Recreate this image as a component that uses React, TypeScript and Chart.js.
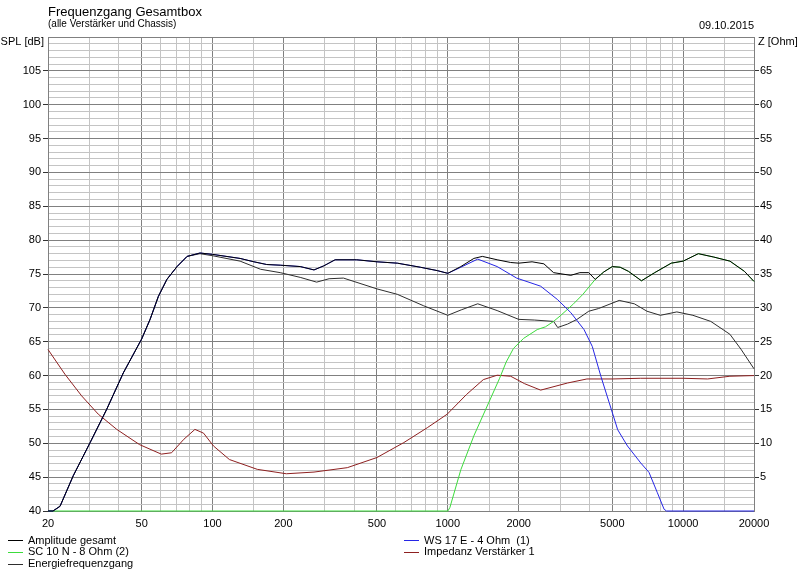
import React, { useEffect, useRef } from "react";
import { Chart, registerables } from "chart.js";

Chart.register(...registerables);

// ---------- Data ----------
const TITLE = "Frequenzgang Gesamtbox";
const SUBTITLE = "(alle Verstärker und Chassis)";
const DATE_TEXT = "09.10.2015";
const LEFT_UNIT = "SPL [dB]";
const RIGHT_UNIT = "Z [Ohm]";

const FREQ_LABELS = [20, 50, 100, 200, 500, 1000, 2000, 5000, 10000, 20000];
const FREQ_GRID = [
  20, 30, 40, 50, 60, 70, 80, 90, 100, 150, 200, 300, 400, 500, 600, 700, 800, 900,
  1000, 1500, 2000, 3000, 4000, 5000, 6000, 7000, 8000, 9000, 10000, 15000, 20000,
];

const AMP_LABEL = "Amplitude gesamt";
const AMP_FREQ = [
  20, 21, 22.5, 25.6, 30.2, 35.5, 41.8, 50, 54.3, 58.9, 64, 70.7, 78, 88.5, 100, 131, 150,
  170, 194, 236, 270, 297, 332, 410, 500, 610, 764, 902, 1000, 1136, 1290, 1402, 1620,
  1850, 2000, 2280, 2560, 2815, 3330, 3640, 3970, 4230, 4600, 5000, 5400, 5850, 6650,
  7570, 8900, 10000, 11600, 13500, 15800, 18200, 20000,
];
const AMP_VALUES = [
  40, 40, 40.7, 45.2, 50.1, 55.0, 60.4, 65.4, 68.3, 71.7, 74.2, 76.1, 77.6, 78.1, 77.9, 77.3,
  76.8, 76.4, 76.3, 76.1, 75.6, 76.2, 77.1, 77.1, 76.8, 76.6, 76.0, 75.5, 75.1, 76.1, 77.3,
  77.6, 77.1, 76.7, 76.6, 76.8, 76.5, 75.2, 74.8, 75.2, 75.2, 74.2, 75.3, 76.1, 76.0, 75.4,
  74.0, 75.2, 76.6, 76.9, 78.0, 77.5, 76.9, 75.4, 73.9,
];

const WOOFER_LABEL = "WS 17 E - 4 Ohm  (1)";
const WOOFER_FREQ = [
  20, 21, 22.5, 25.6, 30.2, 35.5, 41.8, 50, 54.3, 58.9, 64, 70.7, 78, 88.5, 100, 131, 150,
  170, 194, 236, 270, 297, 332, 410, 500, 610, 764, 902, 1000, 1136, 1340, 1620, 1960, 2480,
  2930, 3330, 3790, 4110, 4470, 4850, 5270, 5800, 6600, 7160, 7770, 8300, 8500, 20000,
];
const WOOFER_VALUES = [
  40, 40, 40.7, 45.2, 50.1, 55.0, 60.4, 65.4, 68.3, 71.7, 74.2, 76.1, 77.6, 78.1, 77.9, 77.3,
  76.8, 76.4, 76.3, 76.1, 75.6, 76.2, 77.1, 77.1, 76.8, 76.6, 76.0, 75.5, 75.1, 76.0, 77.2,
  76.1, 74.4, 73.2, 71.2, 69.3, 66.8, 64.3, 59.9, 56.0, 52.0, 49.6, 47.1, 45.7, 42.7, 40.25,
  40, 40,
];

const TWEETER_LABEL = "SC 10 N - 8 Ohm (2)";
const TWEETER_FREQ = [
  20, 1000, 1020, 1136, 1290, 1470, 1660, 1770, 1900, 2100, 2400, 2600, 2815, 3000, 3400,
  3750, 4230, 4600, 5000, 5400, 5850, 6650, 7570, 8900, 10000, 11600, 13500, 15800, 18200,
  20000,
];
const TWEETER_VALUES = [
  40, 40, 40.5, 46.1, 51.1, 55.5, 59.6, 62.0, 64.0, 65.5, 66.8, 67.2, 68.0, 68.8, 70.5, 72.0,
  74.2, 75.3, 76.1, 76.0, 75.4, 74.0, 75.2, 76.6, 76.9, 78.0, 77.5, 76.9, 75.4, 73.9,
];

const ENERGY_LABEL = "Energiefrequenzgang";
const ENERGY_FREQ = [
  20, 21, 22.5, 25.6, 30.2, 35.5, 41.8, 50, 54.3, 58.9, 64, 70.7, 78, 88.5, 100, 131, 160,
  194, 236, 277, 313, 360, 500, 610, 790, 1000, 1140, 1340, 1620, 2000, 2330, 2815, 2930,
  3225, 3540, 3970, 4370, 5350, 6200, 7020, 8000, 9400, 11000, 13100, 15800, 17600, 20000,
];
const ENERGY_VALUES = [
  40, 40, 40.7, 45.2, 50.1, 55.0, 60.4, 65.4, 68.3, 71.7, 74.2, 76.1, 77.6, 78.0, 77.7, 76.9,
  75.7, 75.2, 74.5, 73.8, 74.3, 74.4, 72.8, 72.0, 70.3, 68.9, 69.7, 70.6, 69.6, 68.3, 68.2,
  68.0, 67.1, 67.6, 68.3, 69.5, 69.9, 71.1, 70.6, 69.5, 68.9, 69.4, 68.9, 68.0, 66.1, 63.9,
  61.0,
];

const IMP_LABEL = "Impedanz Verstärker 1";
const IMP_FREQ = [
  20, 23.6, 27.8, 32.7, 39.2, 49, 60.6, 67, 75.6, 84.2, 91.6, 101, 118, 155, 206, 270, 374,
  500, 650, 818, 994, 1200, 1415, 1620, 1850, 2120, 2480, 3225, 3900, 5000, 6600, 10000,
  12700, 15800, 20000,
];
const IMP_VALUES = [
  23.85, 20.2, 17.0, 14.3, 12.05, 9.8, 8.4, 8.6, 10.6, 12.05, 11.5, 9.6, 7.6, 6.15, 5.5, 5.75,
  6.4, 7.9, 10.1, 12.3, 14.3, 17.2, 19.4, 20.05, 19.9, 18.8, 17.85, 18.9, 19.5, 19.5, 19.6,
  19.6, 19.5, 19.9, 20.0,
];

const SPL_MIN = 40;
const SPL_MAX = 110;
const Z_MIN = 0;
const Z_MAX = 70;

// ---------- Helpers ----------
const pts = (fx: number[], vy: number[]) => fx.map((f, i) => ({ x: f, y: vy[i] }));

const FONT = "'Liberation Sans', Arial, sans-serif";
const MAJOR = "#808080";
const MINOR = "#c4c4c4";

const decorPlugin = {
  id: "decor",
  beforeDraw(chart: any) {
    const { ctx, width, height } = chart;
    ctx.save();
    ctx.fillStyle = "#ffffff";
    ctx.fillRect(0, 0, width, height);
    ctx.restore();
  },
  afterDraw(chart: any) {
    const { ctx, chartArea } = chart;
    ctx.save();
    ctx.fillStyle = "#000";
    ctx.textBaseline = "alphabetic";
    ctx.textAlign = "left";
    ctx.font = `13px ${FONT}`;
    ctx.fillText(TITLE, chartArea.left, 15.5);
    ctx.font = `10px ${FONT}`;
    ctx.fillText(SUBTITLE, chartArea.left, 26.5);
    ctx.font = `11px ${FONT}`;
    ctx.textAlign = "right";
    ctx.fillText(DATE_TEXT, chartArea.right, 29);
    ctx.textBaseline = "middle";
    ctx.textAlign = "right";
    ctx.fillText(LEFT_UNIT, chartArea.left - 4, chartArea.top + 4.5);
    ctx.textAlign = "left";
    ctx.fillText(RIGHT_UNIT, chartArea.right + 4, chartArea.top + 4.5);

    // legend
    const layout = [
      { ds: 0, x: 8, y: 540 },
      { ds: 2, x: 8, y: 551.5 },
      { ds: 3, x: 8, y: 563.5 },
      { ds: 1, x: 404, y: 540 },
      { ds: 4, x: 404, y: 551.5 },
    ];
    ctx.font = `11px ${FONT}`;
    layout.forEach((l) => {
      const d = chart.data.datasets[l.ds];
      ctx.strokeStyle = d.borderColor;
      ctx.lineWidth = 1;
      ctx.beginPath();
      ctx.moveTo(l.x, Math.round(l.y) + 0.5);
      ctx.lineTo(l.x + 15, Math.round(l.y) + 0.5);
      ctx.stroke();
      ctx.fillStyle = "#000";
      ctx.textAlign = "left";
      ctx.textBaseline = "middle";
      ctx.fillText(d.label, l.x + 20, l.y + 0.5);
    });
    ctx.restore();
  },
};

export default function App() {
  const ref = useRef<HTMLCanvasElement | null>(null);

  useEffect(() => {
    if (!ref.current) return;
    const line = (label: string, data: any[], color: string, axis = "y") => ({
      label,
      data,
      borderColor: color,
      backgroundColor: color,
      borderWidth: 1,
      pointRadius: 0,
      tension: 0,
      fill: false,
      yAxisID: axis,
      clip: false as any,
    });
    const chart = new Chart(ref.current, {
      type: "line",
      data: {
        datasets: [
          line(AMP_LABEL, pts(AMP_FREQ, AMP_VALUES), "#000000"),
          line(WOOFER_LABEL, pts(WOOFER_FREQ, WOOFER_VALUES), "#2626e6"),
          line(TWEETER_LABEL, pts(TWEETER_FREQ, TWEETER_VALUES), "#3cdc3c"),
          line(ENERGY_LABEL, pts(ENERGY_FREQ, ENERGY_VALUES), "#2e2e2e"),
          line(IMP_LABEL, pts(IMP_FREQ, IMP_VALUES), "#8e2020", "y2"),
        ],
      },
      options: {
        responsive: false,
        animation: false,
        devicePixelRatio: 1,
        layout: { padding: { top: 37, left: 0, right: 0, bottom: 0 } },
        plugins: {
          legend: { display: false },
          title: { display: false },
          tooltip: { enabled: false },
        },
        scales: {
          x: {
            type: "logarithmic",
            position: "bottom",
            min: 20,
            max: 20000,
            afterBuildTicks: (scale: any) => {
              scale.ticks = FREQ_GRID.map((v) => ({ value: v }));
            },
            afterFit: (scale: any) => {
              scale.height = 64;
            },
            ticks: {
              autoSkip: false,
              maxRotation: 0,
              minRotation: 0,
              padding: 6,
              color: "#000",
              font: { family: FONT, size: 11 },
              callback: (v: any) => (FREQ_LABELS.includes(Number(v)) ? String(v) : ""),
            },
            grid: {
              drawTicks: false,
              color: (c: any) =>
                FREQ_LABELS.includes(c.tick?.value) ? MAJOR : MINOR,
              lineWidth: 1,
            },
            border: { display: true, color: MAJOR },
          },
          y: {
            type: "linear",
            position: "left",
            min: SPL_MIN,
            max: SPL_MAX,
            afterBuildTicks: (scale: any) => {
              const t: any[] = [];
              for (let v = SPL_MIN; v <= SPL_MAX; v++) t.push({ value: v });
              scale.ticks = t;
            },
            afterFit: (scale: any) => {
              scale.width = 48;
            },
            ticks: {
              autoSkip: false,
              padding: 2,
              color: "#000",
              font: { family: FONT, size: 11 },
              callback: (v: any) =>
                Number(v) % 5 === 0 && Number(v) !== SPL_MAX ? String(v) : "",
            },
            grid: {
              drawTicks: true,
              tickLength: 5,
              color: (c: any) => (c.tick?.value % 5 === 0 ? MAJOR : MINOR),
              tickColor: (c: any) =>
                c.tick?.value % 5 === 0 && c.tick?.value !== SPL_MAX ? "#333" : "rgba(0,0,0,0)",
              lineWidth: 1,
            },
            border: { display: true, color: MAJOR },
          },
          y2: {
            type: "linear",
            position: "right",
            min: Z_MIN,
            max: Z_MAX,
            afterBuildTicks: (scale: any) => {
              const t: any[] = [];
              for (let v = Z_MIN; v <= Z_MAX; v += 5) t.push({ value: v });
              scale.ticks = t;
            },
            afterFit: (scale: any) => {
              scale.width = 46;
            },
            ticks: {
              autoSkip: false,
              padding: 1,
              color: "#000",
              font: { family: FONT, size: 11 },
              callback: (v: any) =>
                Number(v) > Z_MIN && Number(v) < Z_MAX ? String(v) : "",
            },
            grid: {
              drawOnChartArea: false,
              drawTicks: true,
              tickLength: 5,
              tickColor: (c: any) =>
                c.tick?.value > Z_MIN && c.tick?.value < Z_MAX ? "#333" : "rgba(0,0,0,0)",
            },
            border: { display: true, color: MAJOR },
          },
        },
      } as any,
      plugins: [decorPlugin],
    });
    return () => chart.destroy();
  }, []);

  return (
    <div
      style={{
        position: "fixed",
        left: 0,
        top: 0,
        width: 800,
        height: 575,
        background: "#fff",
      }}
    >
      <canvas ref={ref} width={800} height={575} style={{ display: "block" }} />
    </div>
  );
}
